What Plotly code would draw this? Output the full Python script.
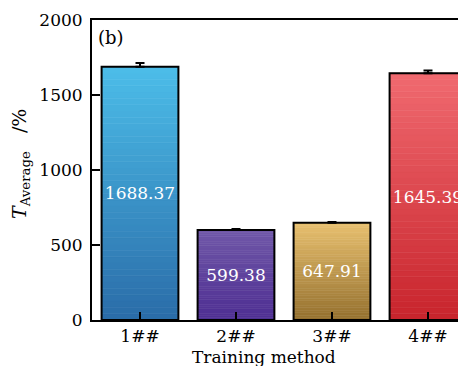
import plotly.graph_objects as go

categories = ["1##", "2##", "3##", "4##"]
values = [1688.37, 599.38, 647.91, 1645.39]
errors = [25, 8, 5, 18]
labels = ["1688.37", "599.38", "647.91", "1645.39"]
top_colors = ["#4cbde9", "#7058a8", "#e8c070", "#f06a70"]
bottom_colors = ["#2a6ca8", "#4e2e92", "#94702e", "#c8242c"]

FONT = "DejaVu Serif"


def hex2rgb(h):
    h = h.lstrip("#")
    return tuple(int(h[i:i + 2], 16) for i in (0, 2, 4))


def mix(c1, c2, t):
    a, b = hex2rgb(c1), hex2rgb(c2)
    return "rgb(%d,%d,%d)" % tuple(round(a[i] + (b[i] - a[i]) * t) for i in range(3))


xpos = list(range(len(categories)))
fig = go.Figure()

N = 40
for k in range(N):
    t = (k + 0.5) / N
    cols = [mix(bottom_colors[i], top_colors[i], t) for i in range(len(values))]
    fig.add_trace(go.Bar(
        x=xpos, y=[v / N for v in values], base=[v * k / N for v in values],
        width=0.8, marker=dict(color=cols, line=dict(color=cols, width=0.6)),
        hoverinfo="skip", showlegend=False))

fig.add_trace(go.Bar(
    x=xpos, y=values, width=0.8,
    marker=dict(color="rgba(0,0,0,0)", line=dict(color="black", width=2)),
    error_y=dict(type="data", array=errors, arrayminus=[0] * len(values), symmetric=False,
                 color="black", thickness=2, width=4.5),
    text=labels, textposition="inside", insidetextanchor="middle",
    textfont=dict(family=FONT, size=17, color="white"),
    showlegend=False))

fig.update_layout(
    width=458, height=358,
    margin=dict(l=84, r=0, t=12, b=46),
    paper_bgcolor="white", plot_bgcolor="white",
    barmode="overlay",
    font=dict(family=FONT, size=16, color="black"),
    xaxis=dict(range=[-0.5, 3.396], tickmode="array", tickvals=xpos, ticktext=categories,
               showline=True, linecolor="black", linewidth=2, mirror=True,
               ticks="inside", ticklen=8, tickwidth=2, tickcolor="black",
               showgrid=False, zeroline=False, tickfont=dict(family=FONT, size=17)),
    yaxis=dict(range=[0, 2000], tickvals=[0, 500, 1000, 1500, 2000],
               showline=True, linecolor="black", linewidth=2,
               ticks="inside", ticklen=8, tickwidth=2, tickcolor="black",
               showgrid=False, zeroline=False, tickfont=dict(family=FONT, size=17),
               ticklabelstandoff=4),
    annotations=[
        dict(text="Training method", xref="paper", yref="paper", x=(256 - 84) / 374, y=0,
             xanchor="center", yanchor="middle", showarrow=False, yshift=-37,
             font=dict(family=FONT, size=17)),
        dict(text="(b)", xref="paper", yref="paper", x=0.01, y=0.985, xanchor="left",
             yanchor="top", showarrow=False, font=dict(family=FONT, size=18)),
        dict(text="<i>T</i><sub>Average</sub>&nbsp;&nbsp;&nbsp;/%", xref="paper", yref="paper",
             x=-0.1925, y=0.52, xanchor="center", yanchor="middle", textangle=-90,
             showarrow=False, font=dict(family=FONT, size=19)),
    ],
)

fig.write_html("out.html")
